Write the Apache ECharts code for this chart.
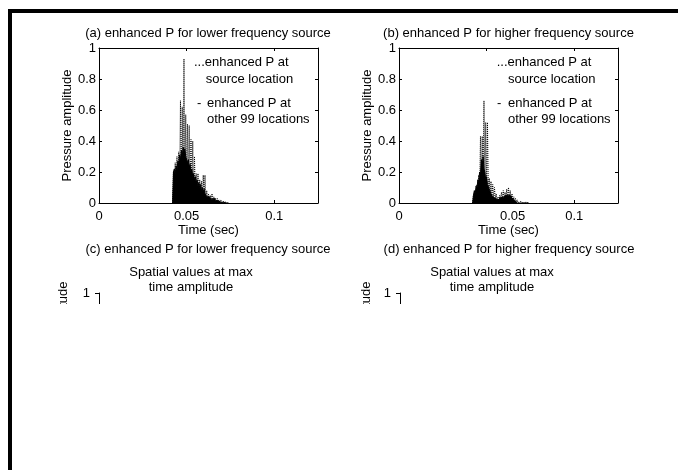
<!DOCTYPE html>
<html><head><meta charset="utf-8">
<script src="https://cdn.jsdelivr.net/npm/echarts@6/dist/echarts.min.js"></script>
<style>html,body{margin:0;padding:0;background:#fff}#c{width:678px;height:470px}</style>
</head><body><div id="c"></div>
<script>
// ---------- data ----------
const times = [0.042,0.0425,0.043,0.0435,0.044,0.0445,0.045,0.0455,0.046,0.0465,
  0.047,0.0475,0.048,0.0485,0.049,0.0495,0.05,0.0505,0.051,0.0515,
  0.052,0.0525,0.053,0.0535,0.054,0.0545,0.055,0.0555,0.056,0.0565,
  0.057,0.0575,0.058,0.0585,0.059,0.0595,0.06,0.0605,0.061,0.0615,
  0.062,0.0625,0.063,0.0635,0.064,0.0645,0.065,0.0655,0.066,0.0665,
  0.067,0.0675,0.068,0.0685,0.069,0.0695,0.07,0.0705,0.071,0.0715,
  0.072,0.0725,0.073,0.0735,0.074];
// (a) lower frequency source
const aOther = [0,0.20,0.22,0.18,0.24,0.21,0.27,0.25,0.31,0.28,
  0.34,0.30,0.36,0.33,0.35,0.30,0.31,0.26,0.28,0.23,
  0.25,0.20,0.22,0.17,0.19,0.15,0.17,0.13,0.15,0.11,
  0.13,0.10,0.12,0.08,0.10,0.07,0.09,0.06,0.07,0.04,
  0.05,0.03,0.04,0.03,0.04,0.02,0.03,0.02,0.03,0.015,
  0.02,0.01,0.015,0.01,0.01,0.005,0.01,0.005,0.005,0.003,
  0,0,0,0,0];
const aSource = [0,0.20,0.05,0.26,0.05,0.30,0.05,0.33,0.10,0.66,
  0.10,0.62,0.10,0.93,0.10,0.57,0.10,0.51,0.10,0.50,
  0.05,0.41,0.05,0.40,0.05,0.30,0.05,0.19,0.03,0.19,
  0.03,0.15,0.03,0.14,0.03,0.18,0.03,0.18,0.02,0.08,
  0.02,0.06,0.01,0.05,0.01,0.06,0.01,0.04,0.01,0.03,
  0.01,0.03,0.005,0.02,0.005,0.02,0.005,0.01,0,0.01,
  0,0,0,0,0];
// (b) higher frequency source
const bOther = [0,0.05,0.08,0.06,0.11,0.09,0.15,0.13,0.20,0.18,
  0.28,0.24,0.30,0.22,0.20,0.15,0.17,0.12,0.13,0.09,
  0.08,0.06,0.06,0.04,0.04,0.03,0.03,0.02,0.025,0.02,
  0.02,0.03,0.035,0.03,0.04,0.035,0.045,0.04,0.05,0.045,
  0.06,0.05,0.055,0.04,0.045,0.03,0.03,0.02,0.015,0.01,
  0.005,0,0,0,0,0,0,0,0,0,
  0,0,0,0,0];
const bSource = [0,0.05,0.02,0.08,0.03,0.12,0.04,0.18,0.05,0.43,
  0.10,0.43,0.10,0.66,0.10,0.52,0.08,0.52,0.05,0.16,
  0.04,0.14,0.03,0.12,0.02,0.10,0.02,0.06,0.01,0.04,
  0.01,0.05,0.02,0.07,0.02,0.08,0.02,0.07,0.03,0.09,
  0.03,0.10,0.03,0.08,0.02,0.06,0.01,0.04,0.01,0.03,
  0.005,0.02,0,0.01,0,0.01,0,0.005,0,0.005,
  0,0.005,0,0,0];
const xTicks = [0, 0.05, 0.1];
const yTicks = [0, 0.2, 0.4, 0.6, 0.8, 1];
const xMax = 0.125;
const panelTitles = ['(a) enhanced P for lower frequency source','(b) enhanced P for higher frequency source',
  '(c) enhanced P for lower frequency source','(d) enhanced P for higher frequency source'];
const legendSource = ['...enhanced P at', 'source location'];
const legendOther = ['-', 'enhanced P at', 'other 99 locations'];
const subTitle = 'Spatial values at max\ntime amplitude';
const xName = 'Time (sec)', yName = 'Pressure amplitude';

// ---------- chart ----------
const FONT = '"Liberation Sans", Arial, sans-serif';
const txt = {color:'#000', fontSize:13, fontFamily:FONT};
const line = {show:true, onZero:false, lineStyle:{color:'#000', width:1}};
const pair = arr => times.map((t,i)=>[t, arr[i]]);
function fmtX(shift){
  return function(v){
    const hit = xTicks.find(t=>Math.abs(t-v)<1e-9);
    if (hit === undefined) return '';
    if (shift && hit === 0.05) return '{s|' + hit + '}';
    return String(hit);
  };
}
function bottomX(g, shift){
  return {gridIndex:g, type:'value', min:xTicks[0], max:xMax, interval:0.05, position:'bottom',
    axisLine:line, axisTick:{inside:true, length:3, lineStyle:{color:'#000'}},
    axisLabel:Object.assign({margin:7, showMaxLabel:false, formatter:fmtX(shift),
      rich:{s:Object.assign({padding:[0,0,0,52]}, txt)}}, txt),
    splitLine:{show:false}, name:xName, nameLocation:'middle', nameGap:21, nameTextStyle:txt};
}
function topX(g){
  return {gridIndex:g, type:'value', min:xTicks[0], max:xMax, interval:0.05, position:'top',
    axisLine:line, axisTick:{inside:true, length:3, lineStyle:{color:'#000'}},
    axisLabel:{show:false}, splitLine:{show:false}};
}
function leftY(g){
  return {gridIndex:g, type:'value', min:yTicks[0], max:yTicks[yTicks.length-1], interval:0.2, position:'left',
    axisLine:line, axisTick:{inside:true, length:3, lineStyle:{color:'#000'}},
    axisLabel:Object.assign({margin:3}, txt), splitLine:{show:false},
    name:yName, nameLocation:'middle', nameGap:24, nameTextStyle:txt};
}
function rightY(g){
  return {gridIndex:g, type:'value', min:yTicks[0], max:yTicks[yTicks.length-1], interval:0.2, position:'right',
    axisLine:line, axisTick:{inside:true, length:3, lineStyle:{color:'#000'}},
    axisLabel:{show:false}, splitLine:{show:false}};
}
function clipY(g, gap){
  return {gridIndex:g, type:'value', min:0, max:1, interval:1, position:'left',
    axisLine:line, axisTick:{inside:false, length:4, lineStyle:{color:'#000'}},
    axisLabel:Object.assign({margin:9, padding:[0,0,5,0]}, txt), splitLine:{show:false},
    name:yName, nameLocation:'middle', nameGap:gap, nameTextStyle:txt};
}
function srcSeries(x, y, arr){
  return {type:'line', xAxisIndex:x, yAxisIndex:y, data:pair(arr), symbol:'none',
    lineStyle:{color:'#000', width:1, type:'dotted'}, z:2};
}
function othSeries(x, y, arr){
  return {type:'line', xAxisIndex:x, yAxisIndex:y, data:pair(arr), symbol:'none',
    lineStyle:{color:'#000', width:1}, areaStyle:{color:'#000', opacity:1}, z:3};
}
function T(text, x, y, align){
  return {type:'text', x:x, y:y, z:102,
    style:{text:text, font:'13px "Liberation Sans", Arial, sans-serif', fill:'#000',
      align:align, textAlign:align, verticalAlign:'middle', textVerticalAlign:'middle', lineHeight:15}};
}
const graphics = [
  {type:'rect', z:100, shape:{x:13, y:304, width:665, height:166}, style:{fill:'#fff'}},
  {type:'rect', z:101, shape:{x:8, y:9, width:670, height:4}, style:{fill:'#000'}},
  {type:'rect', z:101, shape:{x:8, y:9, width:4, height:461}, style:{fill:'#000'}},
  T(panelTitles[0], 208, 33, 'center'),
  T(panelTitles[1], 508.5, 33, 'center'),
  T(legendSource[0], 194, 62, 'left'), T(legendSource[1], 205.7, 79, 'left'),
  T(legendOther[0], 197, 103, 'left'), T(legendOther[1], 207, 103, 'left'), T(legendOther[2], 207, 119, 'left'),
  T(legendSource[0], 496.7, 62, 'left'), T(legendSource[1], 508, 79, 'left'),
  T(legendOther[0], 497, 103, 'left'), T(legendOther[1], 508, 103, 'left'), T(legendOther[2], 508, 119, 'left'),
  T(panelTitles[2], 208, 249, 'center'),
  T(panelTitles[3], 509, 249, 'center'),
  T(subTitle, 191, 280, 'center'),
  T(subTitle, 492, 280, 'center')
];

const chart = echarts.init(document.getElementById('c'), null, {renderer:'canvas'});
chart.setOption({
  animation:false,
  backgroundColor:'#fff',
  grid:[
    {left:99, top:48, width:219, height:155},
    {left:399, top:48, width:219, height:155},
    {left:99, top:293, width:219, height:89},
    {left:400, top:293, width:219, height:89}
  ],
  xAxis:[bottomX(0,false), topX(0), bottomX(1,true), topX(1),
    {gridIndex:2, type:'value', min:0, max:xMax, show:false},
    {gridIndex:3, type:'value', min:0, max:xMax, show:false}],
  yAxis:[leftY(0), rightY(0), leftY(1), rightY(1), clipY(2, 29), clipY(3, 27)],
  series:[srcSeries(0,0,aSource), othSeries(0,0,aOther), srcSeries(2,2,bSource), othSeries(2,2,bOther)],
  graphic:graphics
});
</script></body></html>
